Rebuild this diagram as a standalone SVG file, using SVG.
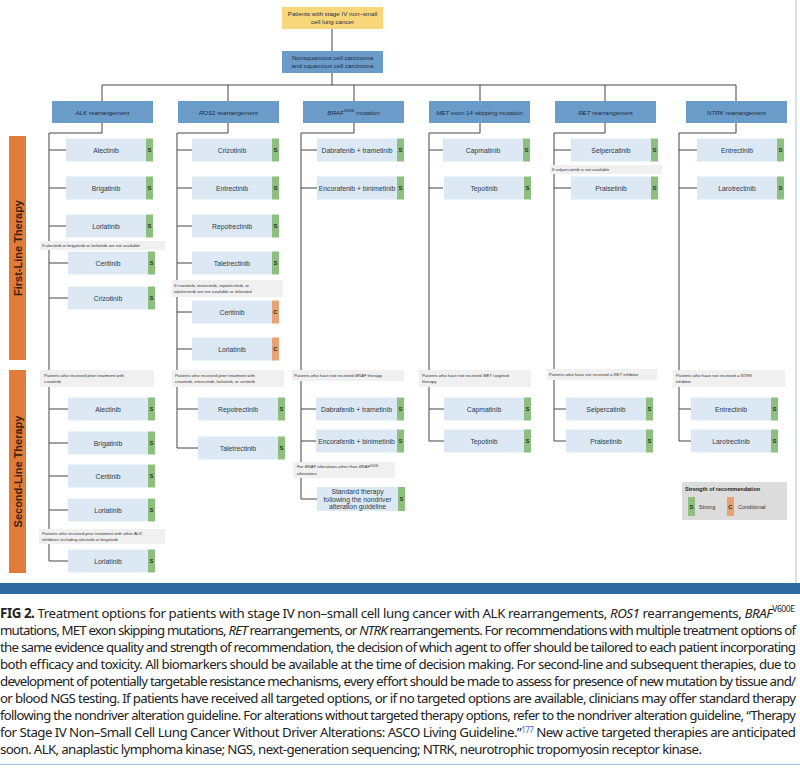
<svg xmlns="http://www.w3.org/2000/svg" width="800" height="769" viewBox="0 0 800 769">
<style>
.ln{stroke:#444;stroke-width:1;fill:none}
.dr{fill:#dce9f5}
.s{fill:#8dc07f}
.c{fill:#e9a273}
.dt{font-family:"Liberation Sans",Arial,sans-serif;font-size:6.8px;fill:#2a3a4a;text-anchor:middle}
.tt{font-family:"Liberation Sans",Arial,sans-serif;font-size:6px;font-weight:bold;fill:#1e3320;text-anchor:middle}
.hd{fill:#6b9bc8}
.ht{font-family:"Liberation Sans",Arial,sans-serif;font-size:6.2px;fill:#1c2d44;text-anchor:middle}
.lb{fill:#f0f0f0}
.lt{font-family:"Liberation Sans",Arial,sans-serif;font-size:4.3px;fill:#333}
.sd{fill:#e07b39}
.st{font-family:"Liberation Sans",Arial,sans-serif;font-size:11px;font-weight:bold;fill:#3a2210;text-anchor:middle}
.cap{font-family:"Noto Sans","Open Sans",sans-serif;font-size:13.3px;fill:#222}
</style>
<rect width="800" height="769" fill="#fff"/>
<line x1="796" y1="0" x2="796" y2="583" stroke="#a9c4de" stroke-width="1"/>

<g id="connectors" class="ln">
<path d="M332 29V51M332 73V85M102 85H736M102 85V101M228 85V101M354 85V101M480 85V101M605 85V101M736 85V101"/>
<path d="M102 123V133H49V561M49 150H66M49 188H66M49 226H66M49 263H68M49 298H68M49 409H68M49 443H68M49 476H68M49 510H68M49 561H68"/>
<path d="M228 123V133H177V448M177 150H192M177 188H192M177 226H192M177 263H192M177 312H192M177 349H192M177 409H198M177 448H198"/>
<path d="M354 123V133H301V499M301 150H317M301 188H317M301 409H316M301 441H316M301 499H317"/>
<path d="M480 123V133H429V441M429 150H443M429 188H443M429 409H444M429 441H444"/>
<path d="M605 123V133H554V441M554 150H571M554 188H571M554 409H566M554 441H566"/>
<path d="M736 123V133H679V441M679 150H697M679 188H697M679 409H691M679 441H691"/>
</g>

<g id="n-top"><rect x="282" y="7" width="101" height="22" fill="#f7d77a"/><text class="ht" x="332.5" y="16">Patients with stage IV non–small</text><text class="ht" x="332.5" y="24">cell lung cancer</text></g>
<g id="n-histo"><rect class="hd" x="282" y="51" width="101" height="22"/><text class="ht" x="332.5" y="60">Nonsquamous cell carcinoma</text><text class="ht" x="332.5" y="68">and squamous cell carcinoma</text></g>

<g id="h-alk"><rect class="hd" x="52" y="101" width="101" height="22"/><text class="ht" x="102.5" y="114.5"><tspan font-style="italic">ALK</tspan> rearrangement</text></g>
<g id="h-ros1"><rect class="hd" x="178" y="101" width="101" height="22"/><text class="ht" x="228.5" y="114.5"><tspan font-style="italic">ROS1</tspan> rearrangement</text></g>
<g id="h-braf"><rect class="hd" x="303" y="101" width="101" height="22"/><text class="ht" x="353.5" y="114.5"><tspan font-style="italic">BRAF</tspan><tspan font-style="italic" font-size="3.5" dy="-2.5">V600E</tspan><tspan dy="2.5"> mutation</tspan></text></g>
<g id="h-met"><rect class="hd" x="429" y="101" width="101" height="22"/><text class="ht" x="479.5" y="114.5"><tspan font-style="italic">MET</tspan> exon 14 skipping mutation</text></g>
<g id="h-ret"><rect class="hd" x="555" y="101" width="101" height="22"/><text class="ht" x="605.5" y="114.5"><tspan font-style="italic">RET</tspan> rearrangement</text></g>
<g id="h-ntrk"><rect class="hd" x="686" y="101" width="101" height="22"/><text class="ht" x="736.5" y="114.5"><tspan font-style="italic">NTRK</tspan> rearrangement</text></g>

<g id="side-1"><rect class="sd" x="9" y="136" width="17" height="224"/><text class="st" transform="translate(21.5 248) rotate(-90)">First-Line Therapy</text></g>
<g id="side-2"><rect class="sd" x="9" y="370" width="17" height="203"/><text class="st" transform="translate(21.5 471.5) rotate(-90)">Second-Line Therapy</text></g>

<!-- ALK -->
<g id="alk-1"><rect class="dr" x="66" y="138.5" width="80" height="23"/><rect class="s" x="146" y="138.5" width="7" height="23"/><text class="dt" x="106" y="152.5">Alectinib</text><text class="tt" x="149.5" y="152">S</text></g>
<g id="alk-2"><rect class="dr" x="66" y="176.5" width="80" height="23"/><rect class="s" x="146" y="176.5" width="7" height="23"/><text class="dt" x="106" y="190.5">Brigatinib</text><text class="tt" x="149.5" y="190">S</text></g>
<g id="alk-3"><rect class="dr" x="66" y="214.5" width="80" height="23"/><rect class="s" x="146" y="214.5" width="7" height="23"/><text class="dt" x="106" y="228.5">Lorlatinib</text><text class="tt" x="149.5" y="228">S</text></g>
<g id="alk-l1"><rect class="lb" x="40" y="241" width="125" height="9"/><text class="lt" x="42" y="247">If alectinib or brigatinib or lorlatinib are not available</text></g>
<g id="alk-4"><rect class="dr" x="68" y="251.5" width="80" height="23"/><rect class="s" x="148" y="251.5" width="7" height="23"/><text class="dt" x="108" y="265.5">Ceritinib</text><text class="tt" x="151.5" y="265">S</text></g>
<g id="alk-5"><rect class="dr" x="68" y="286.5" width="80" height="23"/><rect class="s" x="148" y="286.5" width="7" height="23"/><text class="dt" x="108" y="300.5">Crizotinib</text><text class="tt" x="151.5" y="300">S</text></g>
<g id="alk-l2"><rect class="lb" x="40" y="370" width="114" height="17"/><text class="lt" x="44" y="377">Patients who received prior treatment with</text><text class="lt" x="44" y="383">crizotinib</text></g>
<g id="alk-6"><rect class="dr" x="68" y="397.5" width="80" height="23"/><rect class="s" x="148" y="397.5" width="7" height="23"/><text class="dt" x="108" y="411.5">Alectinib</text><text class="tt" x="151.5" y="411">S</text></g>
<g id="alk-7"><rect class="dr" x="68" y="431.5" width="80" height="23"/><rect class="s" x="148" y="431.5" width="7" height="23"/><text class="dt" x="108" y="445.5">Brigatinib</text><text class="tt" x="151.5" y="445">S</text></g>
<g id="alk-8"><rect class="dr" x="68" y="464.5" width="80" height="23"/><rect class="s" x="148" y="464.5" width="7" height="23"/><text class="dt" x="108" y="478.5">Ceritinib</text><text class="tt" x="151.5" y="478">S</text></g>
<g id="alk-9"><rect class="dr" x="68" y="498.5" width="80" height="23"/><rect class="s" x="148" y="498.5" width="7" height="23"/><text class="dt" x="108" y="512.5">Lorlatinib</text><text class="tt" x="151.5" y="512">S</text></g>
<g id="alk-l3"><rect class="lb" x="39" y="529" width="126" height="15"/><text class="lt" x="42" y="535">Patients who received prior treatment with other ALK</text><text class="lt" x="42" y="541">inhibitors including alectinib or brigatinib</text></g>
<g id="alk-10"><rect class="dr" x="68" y="549.5" width="80" height="23"/><rect class="s" x="148" y="549.5" width="7" height="23"/><text class="dt" x="108" y="563.5">Lorlatinib</text><text class="tt" x="151.5" y="563">S</text></g>

<!-- ROS1 -->
<g id="ros-1"><rect class="dr" x="192" y="138.5" width="80" height="23"/><rect class="s" x="272" y="138.5" width="7" height="23"/><text class="dt" x="232" y="152.5">Crizotinib</text><text class="tt" x="275.5" y="152">S</text></g>
<g id="ros-2"><rect class="dr" x="192" y="176.5" width="80" height="23"/><rect class="s" x="272" y="176.5" width="7" height="23"/><text class="dt" x="232" y="190.5">Entrectinib</text><text class="tt" x="275.5" y="190">S</text></g>
<g id="ros-3"><rect class="dr" x="192" y="214.5" width="80" height="23"/><rect class="s" x="272" y="214.5" width="7" height="23"/><text class="dt" x="232" y="228.5">Repotrectinib</text><text class="tt" x="275.5" y="228">S</text></g>
<g id="ros-4"><rect class="dr" x="192" y="251.5" width="80" height="23"/><rect class="s" x="272" y="251.5" width="7" height="23"/><text class="dt" x="232" y="265.5">Taletrectinib</text><text class="tt" x="275.5" y="265">S</text></g>
<g id="ros-l1"><rect class="lb" x="172" y="280" width="111" height="17"/><text class="lt" x="174" y="287">If crizotinib, entrectinib, repotrectinib, or</text><text class="lt" x="174" y="293">taletrectinib are not available or tolerated</text></g>
<g id="ros-5"><rect class="dr" x="192" y="300.5" width="80" height="23"/><rect class="c" x="272" y="300.5" width="7" height="23"/><text class="dt" x="232" y="314.5">Ceritinib</text><text class="tt" x="275.5" y="314" fill="#4a2210">C</text></g>
<g id="ros-6"><rect class="dr" x="192" y="337.5" width="80" height="23"/><rect class="c" x="272" y="337.5" width="7" height="23"/><text class="dt" x="232" y="351.5">Lorlatinib</text><text class="tt" x="275.5" y="351" fill="#4a2210">C</text></g>
<g id="ros-l2"><rect class="lb" x="172" y="370" width="112" height="17"/><text class="lt" x="175" y="377">Patients who received prior treatment with</text><text class="lt" x="175" y="383">crizotinib, entrectinib, lorlatinib, or ceritinib</text></g>
<g id="ros-7"><rect class="dr" x="198" y="397.5" width="80" height="23"/><rect class="s" x="278" y="397.5" width="7" height="23"/><text class="dt" x="238" y="411.5">Repotrectinib</text><text class="tt" x="281.5" y="411">S</text></g>
<g id="ros-8"><rect class="dr" x="198" y="436.5" width="80" height="23"/><rect class="s" x="278" y="436.5" width="7" height="23"/><text class="dt" x="238" y="450.5">Taletrectinib</text><text class="tt" x="281.5" y="450">S</text></g>

<!-- BRAF -->
<g id="braf-1"><rect class="dr" x="317" y="138.5" width="80" height="23"/><rect class="s" x="397" y="138.5" width="7" height="23"/><text class="dt" x="357" y="152.5">Dabrafenib + trametinib</text><text class="tt" x="400.5" y="152">S</text></g>
<g id="braf-2"><rect class="dr" x="317" y="176.5" width="80" height="23"/><rect class="s" x="397" y="176.5" width="7" height="23"/><text class="dt" x="357" y="190.5">Encorafenib + binimetinib</text><text class="tt" x="400.5" y="190">S</text></g>
<g id="braf-l1"><rect class="lb" x="292" y="370" width="112" height="11"/><text class="lt" x="294" y="377">Patients who have not received <tspan font-style="italic">BRAF</tspan> therapy</text></g>
<g id="braf-3"><rect class="dr" x="316" y="397.5" width="81" height="23"/><rect class="s" x="397" y="397.5" width="7" height="23"/><text class="dt" x="356.5" y="411.5">Dabrafenib + trametinib</text><text class="tt" x="400.5" y="411">S</text></g>
<g id="braf-4"><rect class="dr" x="316" y="429.5" width="81" height="23"/><rect class="s" x="397" y="429.5" width="7" height="23"/><text class="dt" x="356.5" y="443.5">Encorafenib + binimetinib</text><text class="tt" x="400.5" y="443">S</text></g>
<g id="braf-l2"><rect class="lb" x="293" y="462" width="102" height="16"/><text class="lt" x="297" y="468">For <tspan font-style="italic">BRAF</tspan> alterations other than <tspan font-style="italic">BRAF</tspan><tspan font-size="2.6" dy="-1.5">V600E</tspan></text><text class="lt" x="297" y="474.5">alterations</text></g>
<g id="braf-5"><rect class="dr" x="317" y="487" width="81" height="24"/><rect class="s" x="398" y="487" width="7" height="24"/><text class="dt" x="357.5" y="494">Standard therapy</text><text class="dt" x="357.5" y="501.5">following the nondriver</text><text class="dt" x="357.5" y="509">alteration guideline</text><text class="tt" x="401.5" y="501">S</text></g>

<!-- MET -->
<g id="met-1"><rect class="dr" x="443" y="138.5" width="80" height="23"/><rect class="s" x="523" y="138.5" width="7" height="23"/><text class="dt" x="483" y="152.5">Capmatinib</text><text class="tt" x="526.5" y="152">S</text></g>
<g id="met-2"><rect class="dr" x="444" y="176.5" width="80" height="23"/><rect class="s" x="524" y="176.5" width="7" height="23"/><text class="dt" x="484" y="190.5">Tepotinib</text><text class="tt" x="527.5" y="190">S</text></g>
<g id="met-l1"><rect class="lb" x="419" y="370" width="112" height="17"/><text class="lt" x="422" y="377">Patients who have not received <tspan font-style="italic">MET</tspan> targeted</text><text class="lt" x="422" y="383">therapy</text></g>
<g id="met-3"><rect class="dr" x="444" y="397.5" width="80" height="23"/><rect class="s" x="524" y="397.5" width="7" height="23"/><text class="dt" x="484" y="411.5">Capmatinib</text><text class="tt" x="527.5" y="411">S</text></g>
<g id="met-4"><rect class="dr" x="444" y="429.5" width="80" height="23"/><rect class="s" x="524" y="429.5" width="7" height="23"/><text class="dt" x="484" y="443.5">Tepotinib</text><text class="tt" x="527.5" y="443">S</text></g>

<!-- RET -->
<g id="ret-1"><rect class="dr" x="571" y="138.5" width="80" height="23"/><rect class="s" x="651" y="138.5" width="7" height="23"/><text class="dt" x="611" y="152.5">Selpercatinib</text><text class="tt" x="654.5" y="152">S</text></g>
<g id="ret-l1"><rect class="lb" x="550" y="165" width="112" height="9"/><text class="lt" x="552" y="171">If selpercatinib is not available</text></g>
<g id="ret-2"><rect class="dr" x="571" y="176.5" width="80" height="23"/><rect class="s" x="651" y="176.5" width="7" height="23"/><text class="dt" x="611" y="190.5">Pralsetinib</text><text class="tt" x="654.5" y="190">S</text></g>
<g id="ret-l2"><rect class="lb" x="547" y="369" width="110" height="11"/><text class="lt" x="549" y="376">Patients who have not received a <tspan font-style="italic">RET</tspan> inhibitor</text></g>
<g id="ret-3"><rect class="dr" x="566" y="397.5" width="80" height="23"/><rect class="s" x="646" y="397.5" width="7" height="23"/><text class="dt" x="606" y="411.5">Selpercatinib</text><text class="tt" x="649.5" y="411">S</text></g>
<g id="ret-4"><rect class="dr" x="566" y="429.5" width="80" height="23"/><rect class="s" x="646" y="429.5" width="7" height="23"/><text class="dt" x="606" y="443.5">Pralsetinib</text><text class="tt" x="649.5" y="443">S</text></g>

<!-- NTRK -->
<g id="ntrk-1"><rect class="dr" x="697" y="138.5" width="80" height="23"/><rect class="s" x="777" y="138.5" width="7" height="23"/><text class="dt" x="737" y="152.5">Entrectinib</text><text class="tt" x="780.5" y="152">S</text></g>
<g id="ntrk-2"><rect class="dr" x="697" y="176.5" width="80" height="23"/><rect class="s" x="777" y="176.5" width="7" height="23"/><text class="dt" x="737" y="190.5">Larotrectinib</text><text class="tt" x="780.5" y="190">S</text></g>
<g id="ntrk-l1"><rect class="lb" x="673" y="370" width="112" height="17"/><text class="lt" x="676" y="377">Patients who have not received a <tspan font-style="italic">NTRK</tspan></text><text class="lt" x="676" y="383">inhibitor</text></g>
<g id="ntrk-3"><rect class="dr" x="691" y="397.5" width="80" height="23"/><rect class="s" x="771" y="397.5" width="7" height="23"/><text class="dt" x="731" y="411.5">Entrectinib</text><text class="tt" x="774.5" y="411">S</text></g>
<g id="ntrk-4"><rect class="dr" x="691" y="429.5" width="80" height="23"/><rect class="s" x="771" y="429.5" width="7" height="23"/><text class="dt" x="731" y="443.5">Larotrectinib</text><text class="tt" x="774.5" y="443">S</text></g>

<g id="legend"><rect x="682" y="482" width="105" height="38" fill="#dcdcdc"/>
<text x="685" y="491" font-family="Liberation Sans,Arial,sans-serif" font-size="5.5" font-weight="bold" fill="#222">Strength of recommendation</text>
<rect class="s" x="688" y="497" width="7" height="19"/><text class="tt" x="691.5" y="508.5">S</text>
<text x="699" y="508.5" font-family="Liberation Sans,Arial,sans-serif" font-size="5.5" fill="#333">Strong</text>
<rect class="c" x="727" y="497" width="7" height="19"/><text class="tt" x="730.5" y="508.5" fill="#4a2210">C</text>
<text x="738" y="508.5" font-family="Liberation Sans,Arial,sans-serif" font-size="5.5" fill="#333">Conditional</text></g>

<rect x="0" y="583" width="800" height="11" fill="#2f6aa3"/>
<line x1="0" y1="764.5" x2="800" y2="764.5" stroke="#a9c4de" stroke-width="1"/>

<g id="caption" class="cap">
<text x="0" y="618" textLength="795" lengthAdjust="spacing"><tspan font-weight="bold">FIG 2.</tspan> Treatment options for patients with stage IV non–small cell lung cancer with ALK rearrangements, <tspan font-style="italic">ROS1</tspan> rearrangements, <tspan font-style="italic">BRAF</tspan><tspan font-size="8.5" dy="-6">V600E</tspan></text>
<text x="0" y="635" textLength="796" lengthAdjust="spacing">mutations, MET exon skipping mutations, <tspan font-style="italic">RET</tspan> rearrangements, or <tspan font-style="italic">NTRK</tspan> rearrangements. For recommendations with multiple treatment options of</text>
<text x="0" y="652" textLength="796" lengthAdjust="spacing">the same evidence quality and strength of recommendation, the decision of which agent to offer should be tailored to each patient incorporating</text>
<text x="0" y="669" textLength="796" lengthAdjust="spacing">both efficacy and toxicity. All biomarkers should be available at the time of decision making. For second-line and subsequent therapies, due to</text>
<text x="0" y="686" textLength="796" lengthAdjust="spacing">development of potentially targetable resistance mechanisms, every effort should be made to assess for presence of new mutation by tissue and/</text>
<text x="0" y="703" textLength="796" lengthAdjust="spacing">or blood NGS testing. If patients have received all targeted options, or if no targeted options are available, clinicians may offer standard therapy</text>
<text x="0" y="720" textLength="796" lengthAdjust="spacing" font-size="13">following the nondriver alteration guideline. For alterations without targeted therapy options, refer to the nondriver alteration guideline, “Therapy</text>
<text x="0" y="737" textLength="796" lengthAdjust="spacing">for Stage IV Non–Small Cell Lung Cancer Without Driver Alterations: ASCO Living Guideline.”<tspan font-size="8" dy="-4.5" fill="#3a6fd8">177</tspan><tspan dy="4.5"> New active targeted therapies are anticipated</tspan></text>
<text x="0" y="754" textLength="702" lengthAdjust="spacing">soon. ALK, anaplastic lymphoma kinase; NGS, next-generation sequencing; NTRK, neurotrophic tropomyosin receptor kinase.</text>
</g>
</svg>
